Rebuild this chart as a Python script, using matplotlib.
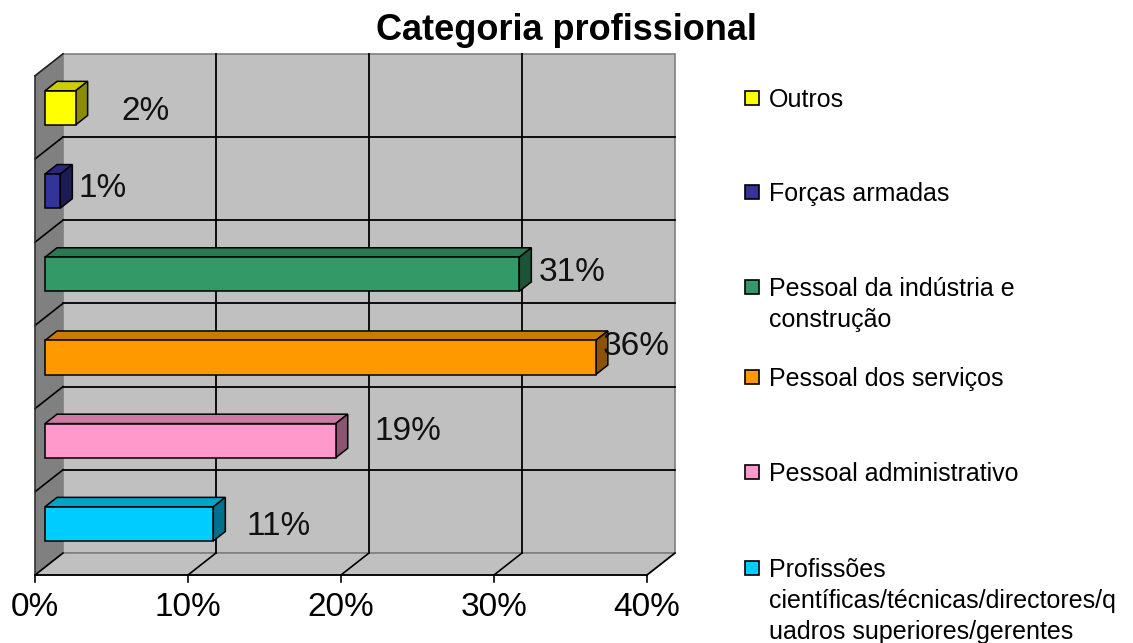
import matplotlib
matplotlib.use('Agg')
import matplotlib.pyplot as plt
from matplotlib.colors import to_rgb
from matplotlib.patches import Polygon, Rectangle

plt.rcParams['font.family'] = ['Liberation Sans', 'DejaVu Sans']

# data (bottom to top, as drawn)
categories = ['Profissões\ncientíficas/técnicas/directores/q\nuadros superiores/gerentes',
              'Pessoal administrativo',
              'Pessoal dos serviços',
              'Pessoal da indústria e\nconstrução',
              'Forças armadas',
              'Outros']
values = [11, 19, 36, 31, 1, 2]
value_labels = ['11%', '19%', '36%', '31%', '1%', '2%']
colors = ['#00CCFF', '#FF99CC', '#FF9900', '#339966', '#333399', '#FFFF00']
xticks = [0, 10, 20, 30, 40]
xticklabels = ['0%', '10%', '20%', '30%', '40%']

# label nudges (x in %, y as fraction of the row)
lab_dx = [4.9, 5.4, 3.3, 4.1, 3.4, 5.2]
lab_fy = [0.58, 0.72, 0.745, 0.64, 0.65, 0.565]

W, H = 1133, 643
fig = plt.figure(figsize=(W / 100, H / 100), dpi=100)
ax = fig.add_axes([0, 0, 1, 1])

# pixel layout of the plot: 0% at x=35, 15.3 px per %, rows of 83.2 px, baseline y=575
px_x0, px_per, px_y0, px_row = 35, 15.3, 575, 83.2
ax.set_xlim(-px_x0 / px_per, (W - px_x0) / px_per)
ax.set_ylim((px_y0 - H) / px_row, px_y0 / px_row)
ax.axis('off')

n = len(values)
xmax = xticks[-1]
dx, dy = 28 / px_per, 22 / px_row   # depth of the box

wall = '#C0C0C0'
side = '#808080'

# back wall
ax.add_patch(Rectangle((dx, dy), xmax, n, facecolor=wall, edgecolor=side, lw=1.2, zorder=1))
# left wall
ax.add_patch(Polygon([(0, 0), (dx, dy), (dx, n + dy), (0, n)], closed=True,
                     facecolor=side, edgecolor='none', zorder=1))
ax.plot([0, 0], [0, n], color='#303030', lw=1.2, zorder=3)
ax.plot([0, dx], [n, n + dy], color='#202020', lw=1.2, zorder=3)
# floor
ax.add_patch(Polygon([(0, 0), (xmax, 0), (xmax + dx, dy), (dx, dy)], closed=True,
                     facecolor=wall, edgecolor=side, lw=1.2, zorder=1))
ax.plot([0, xmax], [0, 0], color='black', lw=1.3, zorder=3)

# grid on back wall
for t in xticks[1:-1]:
    ax.plot([t + dx, t + dx], [dy, n + dy], color='black', lw=1.3, zorder=2)
for k in range(1, n):
    ax.plot([dx, xmax + dx], [k + dy, k + dy], color='black', lw=1.3, zorder=2)
    ax.plot([0, dx], [k, k + dy], color='black', lw=1.2, zorder=2)

# floor diagonals, ticks and tick labels
for t, lab in zip(xticks, xticklabels):
    ax.plot([t, t + dx], [0, dy], color='black', lw=1.2, zorder=2)
    ax.plot([t, t], [0, -7 / px_row], color='black', lw=1.2, zorder=3)
    ax.text(t, -33 / px_row, lab, ha='center', va='center', fontsize=24, zorder=5)


def shade(c, f):
    r, g, b = to_rgb(c)
    return (r * f, g * f, b * f)


# 3D bars
f0, bd = 0.357, 0.43
bh = 0.41
for k, (v, c) in enumerate(zip(values, colors)):
    x0 = f0 * dx
    y0 = k + 0.5 - bh / 2 + 0.02 + f0 * dy
    ox, oy = bd * dx, bd * dy
    front = [(x0, y0), (x0 + v, y0), (x0 + v, y0 + bh), (x0, y0 + bh)]
    top = [(x0, y0 + bh), (x0 + v, y0 + bh), (x0 + v + ox, y0 + bh + oy), (x0 + ox, y0 + bh + oy)]
    right = [(x0 + v, y0), (x0 + v + ox, y0 + oy), (x0 + v + ox, y0 + bh + oy), (x0 + v, y0 + bh)]
    ax.add_patch(Polygon(top, closed=True, facecolor=shade(c, 0.8), edgecolor='black', lw=1.1, zorder=4))
    ax.add_patch(Polygon(right, closed=True, facecolor=shade(c, 0.55), edgecolor='black', lw=1.1, zorder=4))
    ax.add_patch(Polygon(front, closed=True, facecolor=c, edgecolor='black', lw=1.1, zorder=4))
    ax.text(v + lab_dx[k], k + lab_fy[k], value_labels[k], ha='center', va='center',
            fontsize=24, color='#111111', zorder=5)

# title
fig.text(566 / W, 1 - 30 / H, 'Categoria profissional', ha='center', va='center',
         fontsize=26, fontweight='bold')

# legend (top entry = last category)
leg_y = [98, 192, 287, 377, 472, 568]
for i, k in enumerate(range(n - 1, -1, -1)):
    py = leg_y[i]
    fig.patches.append(Rectangle((745 / W, 1 - (py + 7) / H), 14 / W, 14 / H,
                                 transform=fig.transFigure, facecolor=colors[k],
                                 edgecolor='black', lw=1.2))
    fig.text(769 / W, 1 - (py - 10) / H, categories[k], ha='left', va='top',
             fontsize=18, linespacing=1.38)

fig.savefig('out.png', dpi=100)
